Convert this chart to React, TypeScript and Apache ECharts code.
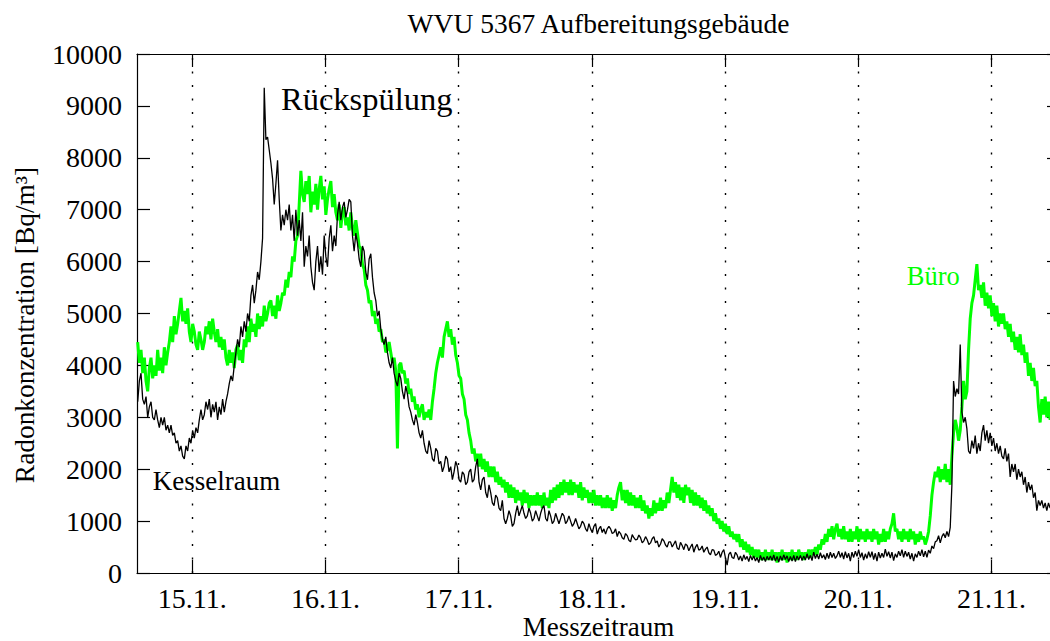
import React, { useEffect, useRef } from "react";
import * as echarts from "echarts";

// Messzeitraum: sample times (days of November), one sample every 0.0125 d starting at 14.59
const measurementStartDay = 14.59;
const sampleIntervalDays = 0.0125;

const dayTicks = [15, 16, 17, 18, 19, 20, 21];
const dayLabels = ["15.11.", "16.11.", "17.11.", "18.11.", "19.11.", "20.11.", "21.11."];

// Kesselraum radon concentration [Bq/m³]
const kesselraum = [
  3300, 3700, 3850, 3350, 3250, 3400, 3000, 3200, 3300, 3000, 2950, 3150, 2950, 2800, 3000, 2850, 3000, 2750, 2850, 2700,
  2850, 2650, 2700, 2500, 2550, 2350, 2450, 2250, 2200, 2450, 2350, 2600, 2500, 2750, 2600, 2800, 2700, 2950, 3150, 2950,
  3050, 3300, 3150, 3350, 3000, 3250, 3100, 3300, 2950, 3200, 3050, 3350, 3100, 3300, 3450, 3650, 3800, 3700, 4000, 4250,
  4500, 4350, 4750, 4550, 4850, 4650, 5000, 4850, 5350, 5550, 5200, 5450, 5800, 5650, 6000, 6450, 9350, 8350, 8400, 8150,
  7900, 7600, 7100, 7500, 7950, 7200, 6600, 6900, 6700, 7000, 6800, 7100, 6600, 6900, 6400, 7000, 6500, 6800, 6400, 6950,
  5900, 6300, 6100, 6500, 5900, 5600, 5450, 6000, 6300, 5800, 6100, 5750, 6500, 6100, 5900, 6450, 6700, 6200, 6500, 6300,
  6900, 7150, 6800, 7050, 7150, 6850, 7000, 7200, 7150, 6500, 6200, 6550, 6350, 6050, 5900, 6300, 6200, 5800, 5650, 6050,
  6150, 5700, 5400, 5250, 4950, 5050, 4700, 4500, 4400, 4550, 4250, 4050, 3950, 4150, 3850, 3700, 3600, 3850, 3750, 3500,
  3350, 3600, 3450, 3200, 3100, 2950, 2850, 3050, 2900, 2700, 2600, 2750, 2500, 2350, 2300, 2550, 2400, 2200, 2150, 2400,
  2350, 2100, 2150, 1950, 2050, 2250, 2200, 1950, 2050, 1800, 1950, 2150, 2050, 1800, 1750, 1950, 1900, 1700, 1750, 1950,
  2000, 1750, 1800, 2050, 2200, 1750, 1600, 1800, 1850, 1550, 1450, 1700, 1550, 1350, 1300, 1500, 1450, 1250, 1200, 1400,
  1050, 950, 1050, 1200, 1100, 900, 950, 1150, 1300, 1100, 1200, 1300, 1150, 1050, 1100, 1250, 1150, 1000, 1050, 1200,
  1100, 1000, 1150, 1250, 1300, 1050, 1000, 1200, 1100, 950, 1000, 1150, 1050, 950, 1050, 1150, 1100, 950, 1000, 1100,
  1000, 900, 950, 1050, 950, 850, 900, 1000, 950, 850, 800, 950, 850, 780, 900, 950, 750, 850, 900, 780,
  850, 750, 850, 900, 850, 760, 780, 850, 700, 800, 760, 680, 650, 760, 720, 630, 600, 740, 680, 640,
  650, 730, 680, 580, 620, 700, 640, 550, 580, 660, 700, 580, 620, 500, 560, 660, 620, 540, 500, 600,
  600, 500, 560, 620, 480, 450, 590, 530, 450, 560, 530, 430, 500, 560, 400, 500, 550, 440, 460, 520,
  400, 460, 500, 390, 350, 450, 440, 340, 360, 420, 300, 400, 450, 290, 150, 360, 400, 300, 280, 400,
  350, 250, 330, 230, 350, 260, 320, 220, 340, 250, 330, 230, 300, 200, 340, 240, 310, 220, 320, 250,
  330, 240, 350, 230, 320, 210, 330, 240, 350, 260, 330, 220, 320, 230, 340, 220, 330, 250, 340, 240,
  330, 250, 370, 260, 340, 240, 400, 280, 360, 270, 390, 290, 350, 260, 380, 280, 400, 300, 380, 280,
  330, 420, 300, 390, 270, 410, 290, 380, 230, 400, 300, 420, 320, 450, 300, 390, 250, 370, 280, 410,
  300, 410, 260, 380, 230, 400, 290, 380, 300, 460, 320, 410, 290, 400, 240, 370, 300, 420, 330, 450,
  300, 420, 320, 400, 270, 380, 230, 370, 300, 420, 330, 450, 310, 420, 300, 440, 380, 520, 470, 600,
  620, 720, 580, 700, 760, 680, 800, 700, 880, 1700, 3700, 3400, 3550, 3450, 4400, 3100, 2900, 3000, 2780, 2350,
  2300, 2550, 2400, 2650, 2300, 2500, 2350, 2700, 2850, 2550, 2750, 2500, 2700, 2450, 2600, 2350, 2500, 2300, 2450, 2250,
  2200, 2400, 2150, 2300, 1850, 2100, 1950, 2100, 1800, 2000, 1850, 1950, 1700, 1850, 1550, 1750, 1600, 1700, 1450, 1550,
  1200, 1400, 1300, 1400, 1250, 1350, 1200, 1350, 1250, 1350, 1200, 1300, 1200, 1300, 1250,
];

// Büro radon concentration [Bq/m³]
const buero = [
  4450, 4050, 4300, 3850, 4150, 3700, 3500, 3950, 4150, 3750, 4000, 3800, 4300, 3900, 4150, 3850, 4350, 4000, 4250, 4450,
  4750, 4450, 4950, 4600, 4800, 5050, 5300, 4850, 5050, 4800, 5100, 4650, 4450, 4800, 4650, 4400, 4300, 4650, 4500, 4300,
  4450, 4750, 4600, 4850, 4500, 4900, 4650, 4450, 4700, 4350, 4550, 4300, 4500, 4150, 4000, 4300, 4050, 4250, 3950, 4300,
  4400, 4100, 4300, 4050, 4500, 4350, 4750, 4450, 4900, 4650, 4800, 4550, 5000, 4700, 4950, 4750, 5150, 4850, 5000, 5200,
  5250, 4950, 5150, 4900, 5350, 5050, 5200, 5400, 5350, 5650, 5500, 5800, 5700, 6100, 6000, 6400, 6500, 7100, 7750, 7300,
  7150, 7550, 7300, 7650, 6950, 7350, 7100, 7500, 7000, 7400, 7650, 7200, 7450, 6900, 7200, 7400, 7550, 7050, 7300, 6950,
  6800, 7100, 6650, 6950, 7050, 6700, 6850, 6600, 6950, 6650, 6500, 6800, 6550, 6300, 6250, 5950, 5850, 5550, 5450, 5200,
  5250, 4950, 5050, 4800, 4900, 4650, 4700, 4450, 4500, 4250, 4300, 4450, 4250, 4050, 4150, 3900, 2400, 4000, 4050, 3850,
  3900, 3650, 3750, 3450, 3550, 3300, 3400, 3150, 3250, 3000, 3150, 3250, 2950, 3100, 3000, 3150, 2950, 3300, 3550, 3850,
  4050, 4200, 4350, 4150, 4550, 4700, 4850, 4550, 4700, 4400, 4550, 4200, 4050, 3800, 3750, 3450, 3350, 3050, 2950, 2700,
  2550, 2300, 2400, 2150, 2300, 2050, 2300, 2000, 2200, 1950, 2150, 1850, 2050, 1850, 2050, 1750, 1950, 1700, 1850, 1650,
  1800, 1550, 1750, 1450, 1700, 1450, 1650, 1350, 1600, 1400, 1550, 1300, 1600, 1350, 1550, 1250, 1500, 1300, 1500, 1300,
  1550, 1300, 1500, 1250, 1550, 1300, 1450, 1250, 1600, 1350, 1650, 1400, 1700, 1450, 1750, 1500, 1800, 1550, 1750, 1500,
  1800, 1500, 1750, 1550, 1700, 1450, 1750, 1400, 1650, 1450, 1600, 1350, 1550, 1350, 1600, 1300, 1500, 1300, 1500, 1250,
  1450, 1250, 1500, 1250, 1450, 1200, 1400, 1250, 1500, 1650, 1750, 1400, 1600, 1350, 1600, 1300, 1550, 1300, 1500, 1250,
  1450, 1250, 1500, 1200, 1400, 1150, 1300, 1050, 1250, 1100, 1400, 1150, 1350, 1200, 1450, 1200, 1400, 1250, 1550, 1350,
  1600, 1850, 1550, 1750, 1450, 1700, 1400, 1650, 1350, 1700, 1500, 1650, 1350, 1600, 1300, 1550, 1300, 1500, 1250, 1450,
  1200, 1400, 1150, 1300, 1100, 1250, 1000, 1150, 950, 1050, 850, 1000, 800, 950, 750, 900, 700, 800, 650, 750,
  600, 750, 500, 650, 450, 600, 400, 550, 350, 500, 300, 450, 300, 450, 250, 400, 250, 450, 250, 400,
  250, 450, 250, 400, 200, 400, 250, 450, 250, 400, 200, 400, 250, 450, 250, 400, 250, 450, 300, 400,
  250, 400, 300, 450, 300, 450, 350, 500, 350, 550, 450, 650, 550, 750, 600, 850, 700, 900, 650, 850,
  950, 700, 850, 650, 900, 650, 800, 600, 850, 600, 800, 650, 900, 600, 850, 650, 800, 600, 850, 650,
  800, 600, 850, 650, 800, 550, 750, 600, 850, 600, 800, 650, 850, 950, 1150, 800, 850, 650, 800, 600,
  850, 650, 800, 600, 850, 650, 800, 550, 750, 600, 800, 650, 700, 550, 650, 800, 1100, 1500, 1750, 1950,
  1850, 2050, 1750, 2000, 1800, 2100, 1750, 2000, 1700, 2250, 2700, 2950, 2800, 2550, 2750, 3200, 3700, 3350, 3500, 4300,
  4900, 5200, 5350, 5650, 5950, 5450, 5550, 5300, 5600, 5150, 5400, 5100, 5350, 4950, 5200, 4850, 5150, 4750, 5000, 4800,
  5000, 4700, 4850, 4550, 4800, 4450, 4650, 4300, 4550, 4250, 4600, 4200, 4400, 4050, 4250, 3800, 4050, 3700, 3950, 3600,
  3700, 3200, 2900, 3350, 3050, 3400, 3000, 3300, 2950, 3250, 2850, 3200, 2950, 3100, 2900,
];

const FONT = "Liberation Serif";

function toPairs(values: number[]) {
  return values.map((v, i) => [measurementStartDay + i * sampleIntervalDays, v]);
}

export default function App() {
  const ref = useRef<HTMLDivElement>(null);

  useEffect(() => {
    if (!ref.current) return;
    const chart = echarts.init(ref.current, null, { renderer: "svg" });

    const xMin = 14.5848;
    const xMax = 21.514;
    const axisLineStyle = { color: "#000", width: 1.2 };

    const xAxisBase = {
      type: "value",
      min: xMin,
      max: xMax,
      splitLine: { show: false },
      axisLine: { show: true, onZero: false, lineStyle: axisLineStyle },
      axisTick: {
        show: true,
        inside: true,
        length: 13,
        customValues: dayTicks,
        lineStyle: axisLineStyle,
      },
    };
    const yAxisBase = {
      type: "value",
      min: 0,
      max: 10000,
      interval: 1000,
      splitLine: { show: false },
      axisLine: { show: true, onZero: false, lineStyle: axisLineStyle },
      axisTick: { show: true, inside: true, length: 13, lineStyle: axisLineStyle },
    };

    const option: any = {
      animation: false,
      grid: { left: 137, right: 10, top: 54, bottom: 68 },
      xAxis: [
        {
          ...xAxisBase,
          position: "bottom",
          axisLabel: {
            show: true,
            customValues: dayTicks,
            formatter: (v: number) => dayLabels[dayTicks.indexOf(Math.round(v))] ?? "",
            fontFamily: FONT,
            fontSize: 28,
            color: "#000",
            margin: 11,
          },
        },
        { ...xAxisBase, position: "top", axisLabel: { show: false } },
      ],
      yAxis: [
        {
          ...yAxisBase,
          position: "left",
          axisLabel: {
            show: true,
            formatter: (v: number) => String(v),
            fontFamily: FONT,
            fontSize: 28,
            color: "#000",
            margin: 15,
            padding: [6, 0, 0, 0],
          },
        },
        { ...yAxisBase, position: "right", axisLabel: { show: false } },
      ],
      series: [
        {
          name: "Büro",
          type: "line",
          data: toPairs(buero),
          showSymbol: false,
          symbol: "none",
          lineStyle: { color: "#00ff00", width: 3 },
          silent: true,
          markLine: {
            z: 1,
            silent: true,
            symbol: ["none", "none"],
            label: { show: false },
            lineStyle: { type: [2, 11.5], color: "#000", width: 1.4 },
            emphasis: { disabled: true },
            data: dayTicks.map((d) => ({ xAxis: d })),
          },
        },
        {
          name: "Kesselraum",
          type: "line",
          data: toPairs(kesselraum),
          showSymbol: false,
          symbol: "none",
          lineStyle: { color: "#000", width: 1.3 },
          silent: true,
        },
      ],
      graphic: [
        {
          type: "text",
          x: 598.5,
          y: 23,
          style: {
            text: "WVU 5367 Aufbereitungsgebäude",
            fontFamily: FONT,
            fontSize: 27.5,
            fill: "#000",
            align: "center",
            verticalAlign: "middle",
          },
        },
        {
          type: "text",
          x: 598.5,
          y: 627,
          style: {
            text: "Messzeitraum",
            fontFamily: FONT,
            fontSize: 27,
            fill: "#000",
            align: "center",
            verticalAlign: "middle",
          },
        },
        {
          type: "text",
          x: 24.5,
          y: 325,
          rotation: Math.PI / 2,
          style: {
            text: "Radonkonzentration [Bq/m³]",
            fontFamily: FONT,
            fontSize: 27.4,
            fill: "#000",
            align: "center",
            verticalAlign: "middle",
          },
        },
        {
          type: "text",
          x: 281,
          y: 99,
          style: {
            text: "Rückspülung",
            fontFamily: FONT,
            fontSize: 32.5,
            fill: "#000",
            align: "left",
            verticalAlign: "middle",
          },
        },
        {
          type: "text",
          x: 152.7,
          y: 481,
          style: {
            text: "Kesselraum",
            fontFamily: FONT,
            fontSize: 27,
            fill: "#000",
            align: "left",
            verticalAlign: "middle",
          },
        },
        {
          type: "text",
          x: 906.7,
          y: 276,
          style: {
            text: "Büro",
            fontFamily: FONT,
            fontSize: 26.5,
            fill: "#00ff00",
            align: "left",
            verticalAlign: "middle",
          },
        },
      ],
    };

    chart.setOption(option);
    return () => chart.dispose();
  }, []);

  return (
    <div
      ref={ref}
      style={{ position: "fixed", left: 0, top: 0, width: 1070, height: 641, background: "#fff" }}
    />
  );
}
